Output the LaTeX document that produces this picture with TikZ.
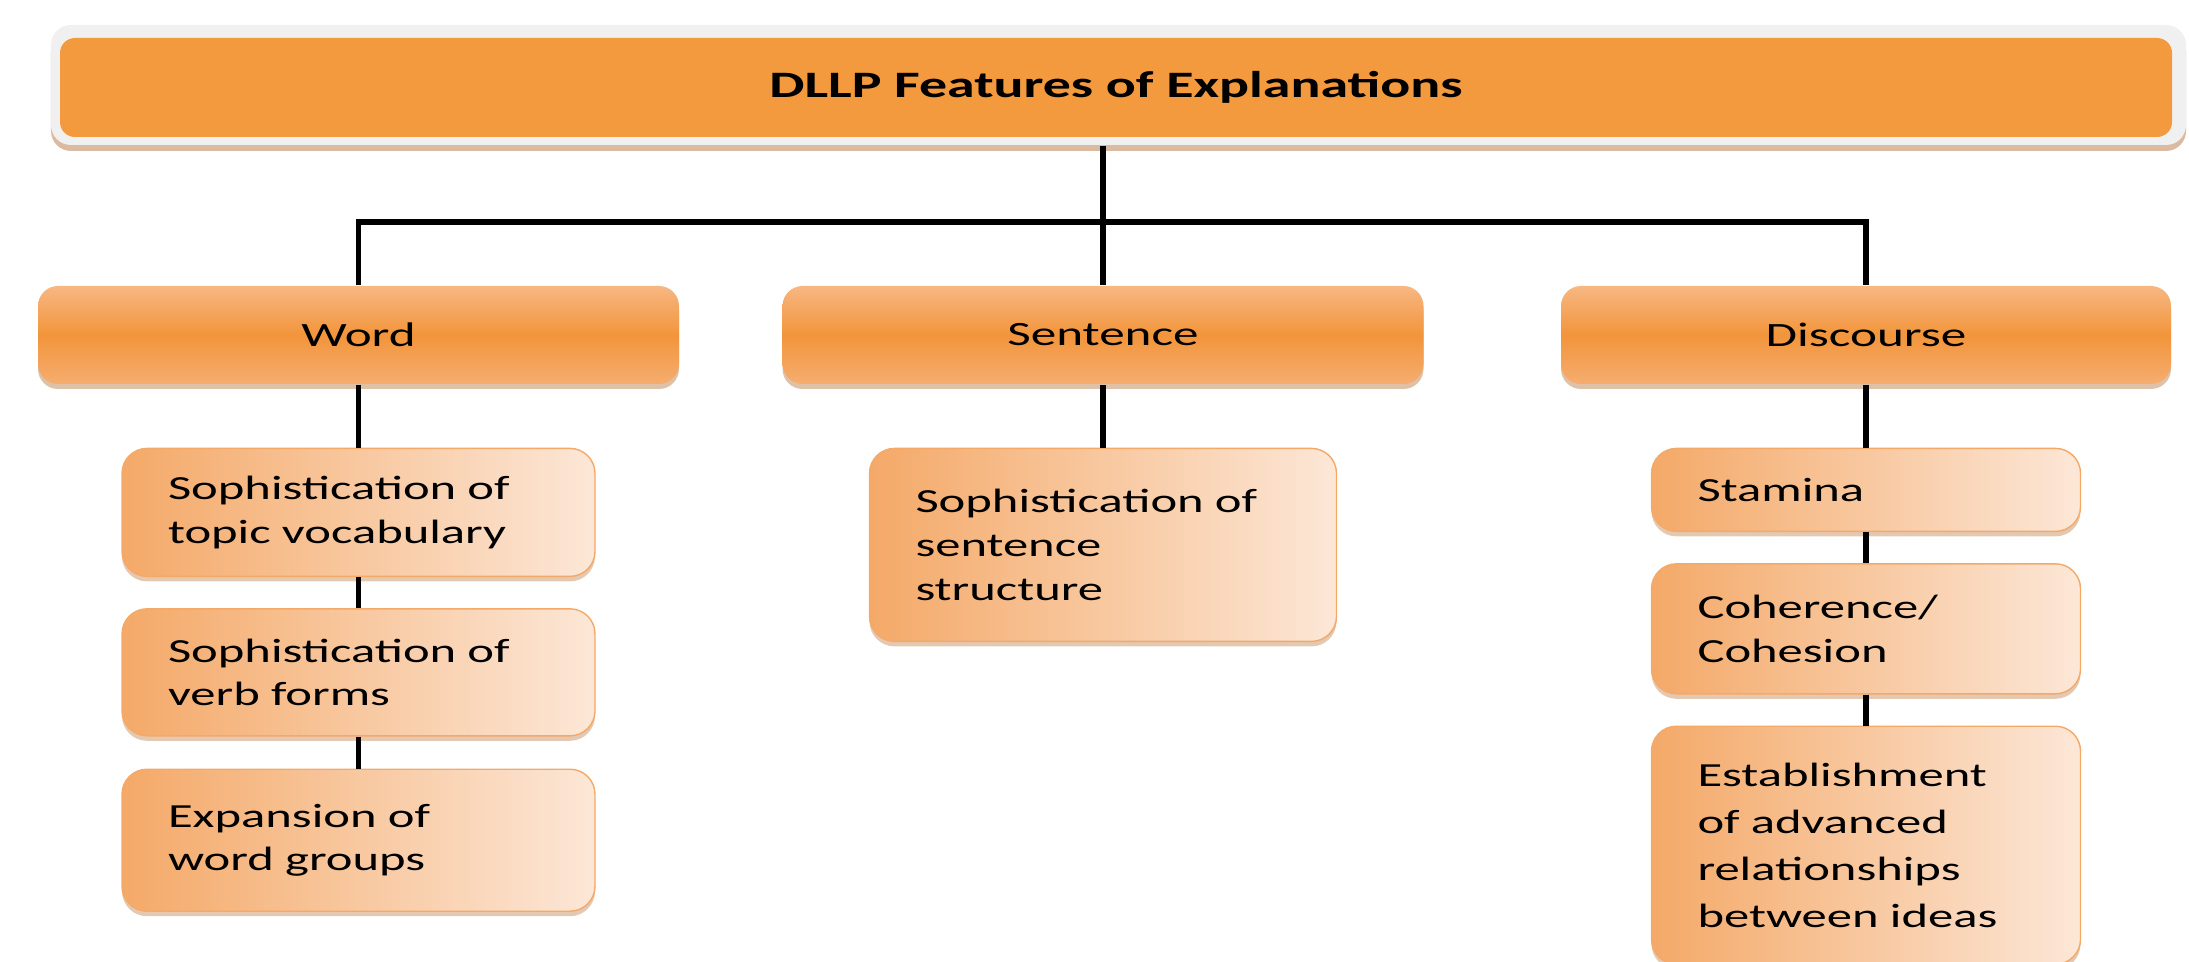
\documentclass[tikz,border=0pt]{standalone}
\usepackage{fontspec}
\setmainfont[FakeStretch=1.5]{Carlito}
\usepackage{tikz}
\usetikzlibrary{calc, shadows}

\definecolor{headorange}{HTML}{F39A3E}
\definecolor{framegray}{HTML}{F0F0F0}
\definecolor{grouptop}{HTML}{F7B783}
\definecolor{groupmid}{HTML}{F2953B}
\definecolor{grouplow}{HTML}{F5AD70}
\definecolor{featdark}{HTML}{F4A968}
\definecolor{featlight}{HTML}{FCE7D7}
\definecolor{shadowbrown}{HTML}{B8763F}

\begin{document}
\begin{tikzpicture}[
  headframe/.style={rounded corners=2mm, fill=framegray, minimum width=21.35cm, minimum height=1.2cm,
    drop shadow={shadow xshift=0cm, shadow yshift=-0.06cm, fill=shadowbrown, opacity=0.5}},
  headbox/.style={rounded corners=1.5mm, fill=headorange, minimum width=21.12cm, minimum height=0.99cm,
    font=\fontsize{10.6}{13}\selectfont\bfseries},
  groupbox/.style={rounded corners=2mm, top color=grouptop, bottom color=grouplow, middle color=groupmid,
    minimum height=0.98cm, font=\fontsize{9.7}{12}\selectfont,
    drop shadow={shadow xshift=0cm, shadow yshift=-0.05cm, fill=shadowbrown, opacity=0.45}},
  featbox/.style={rounded corners=2.5mm, left color=featdark, right color=featlight, draw=featdark, thin,
    align=left, inner xsep=0.46cm, anchor=north, font=\fontsize{9.6}{12.4}\selectfont,
    drop shadow={shadow xshift=0cm, shadow yshift=-0.05cm, fill=shadowbrown, opacity=0.4}},
  link/.style={line width=1.7pt}
]
  \useasboundingbox (0, 0) rectangle (21.89, -9.62);

% heading
  \draw (11.185, -0.85) node[headframe] (frame) {};
  \draw (11.16, -0.875) node[headbox] (head) {DLLP Features of Explanations};

% groups
  \draw (3.585, -3.35) node[groupbox, minimum width=6.41cm] (word) {Word};
  \draw (11.03, -3.35) node[groupbox, minimum width=6.41cm] (sent) {Sentence};
  \draw (18.66, -3.35) node[groupbox, minimum width=6.1cm] (disc) {Discourse};

% word
  \draw ($(word.south) - (0, 0.63)$) node[featbox, text width=3.81cm, minimum height=1.28cm] (topic) {Sophistication of\\topic vocabulary};
  \draw ($(topic.south) - (0, 0.31)$) node[featbox, text width=3.81cm, minimum height=1.27cm] (verb) {Sophistication of\\verb forms};
  \draw ($(verb.south) - (0, 0.32)$) node[featbox, text width=3.81cm, minimum height=1.42cm] (expand) {Expansion of\\word groups};

% sentence
  \draw ($(sent.south) - (0, 0.63)$) node[featbox, text width=3.75cm, minimum height=1.93cm] (struct) {Sophistication of\\sentence\\structure};

% discourse
  \draw ($(disc.south) - (0, 0.63)$) node[featbox, text width=3.37cm, minimum height=0.83cm] (stamina) {Stamina};
  \draw ($(stamina.south) - (0, 0.31)$) node[featbox, text width=3.37cm, minimum height=1.3cm] (cohere) {Coherence/\\Cohesion};
  \draw ($(cohere.south) - (0, 0.31)$) node[featbox, text width=3.37cm, minimum height=2.38cm,
    font=\fontsize{9.6}{13.4}\selectfont] (establish) {Establishment\\of advanced\\relationships\\between ideas};

% connectors
  \coordinate (bus) at ($(sent.north) + (0, 0.63)$);
  \draw[link] (frame.south -| sent.north) -- (sent.north);
  \draw[link] (word.north) |- (bus) -| (disc.north);
  \draw[link] (word.south) -- (topic.north);
  \draw[link] (topic.south) -- (verb.north);
  \draw[link] (verb.south) -- (expand.north);
  \draw[link] (sent.south) -- (struct.north);
  \draw[link] (disc.south) -- (stamina.north);
  \draw[link] (stamina.south) -- (cohere.north);
  \draw[link] (cohere.south) -- (establish.north);
\end{tikzpicture}
\end{document}
